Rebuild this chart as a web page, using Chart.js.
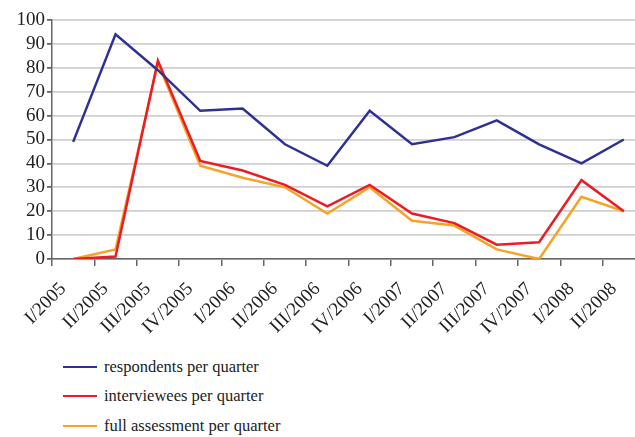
<!DOCTYPE html>
<html>
<head>
<meta charset="utf-8">
<script src="https://cdn.jsdelivr.net/npm/chart.js@4"></script>
<style>
  body { margin: 0; overflow: hidden; background: #fff; }
  #wrap { position: relative; width: 660px; height: 340px; }
  #legend { margin: 0; padding: 12px 0 0 63px; list-style: none;
    font-family: "Liberation Serif", "Times New Roman", serif; font-size: 16.5px; color: #222; }
  #legend li { height: 29.5px; display: flex; align-items: center; }
  #legend span.sw { display: inline-block; width: 34px; height: 0; border-top: 2px solid; margin-right: 7px; }
</style>
</head>
<body>
<div id="wrap"><canvas id="myChart" width="660" height="340"></canvas></div>
<ul id="legend"></ul>
<script>
// quarters on the x axis
const quarters = ["I/2005", "II/2005", "III/2005", "IV/2005", "I/2006", "II/2006", "III/2006",
  "IV/2006", "I/2007", "II/2007", "III/2007", "IV/2007", "I/2008", "II/2008"];
const respondents = [49, 94, 79, 62, 63, 48, 39, 62, 48, 51, 58, 48, 40, 50];
const interviewees = [0, 1, 83, 41, 37, 31, 22, 31, 19, 15, 6, 7, 33, 20];
const fullAssessment = [0, 4, 82, 39, 34, 30, 19, 30, 16, 14, 4, 0, 26, 20];
const yTicks = [0, 10, 20, 30, 40, 50, 60, 70, 80, 90, 100];

const serif = "'Liberation Serif', 'Times New Roman', serif";

var ctx = document.getElementById('myChart').getContext('2d');
var myChart = new Chart(ctx, {
  type: 'line',
  data: {
    labels: quarters,
    datasets: [{
      label: "respondents per quarter",
      data: respondents,
      borderColor: "#2e3192",
      borderWidth: 2.5
    }, {
      label: "interviewees per quarter",
      data: interviewees,
      borderColor: "#ed1c24",
      borderWidth: 2.5
    }, {
      label: "full assessment per quarter",
      data: fullAssessment,
      borderColor: "#f7a325",
      borderWidth: 2.5
    }]
  },
  options: {
    responsive: false,
    animation: false,
    maintainAspectRatio: false,
    elements: { point: { radius: 0 }, line: { tension: 0 } },
    layout: { padding: { top: 20, right: 15, left: 0, bottom: 0 } },
    plugins: { legend: { display: false }, tooltip: { enabled: false } },
    scales: {
      x: {
        offset: true,
        grid: { offset: true, drawOnChartArea: false, drawTicks: true, tickLength: 7, color: "#666", lineWidth: 1.5 },
        border: { color: "#666", width: 1.5 },
        ticks: {
          minRotation: 45, maxRotation: 45, autoSkip: false, labelOffset: -10,
          color: "#222", font: { family: serif, size: 19 }, padding: 12
        },
        afterFit: function (scale) { scale.height = 81; }
      },
      y: {
        min: 0, max: 100,
        afterBuildTicks: function (scale) { scale.ticks = yTicks.map(v => ({ value: v })); },
        grid: { color: "#cfcfcf", lineWidth: 1.8, drawTicks: true, tickLength: 5,
          tickColor: "#666" },
        border: { color: "#666", width: 1.5 },
        ticks: { autoSkip: false, color: "#222", font: { family: serif, size: 19 }, padding: 2 },
        afterFit: function (scale) { scale.width = 52; }
      }
    }
  }
});

// html legend, one entry per line
var ul = document.getElementById('legend');
myChart.data.datasets.forEach(function (ds) {
  var li = document.createElement('li');
  var sw = document.createElement('span');
  sw.className = 'sw';
  sw.style.borderColor = ds.borderColor;
  li.appendChild(sw);
  li.appendChild(document.createTextNode(ds.label));
  ul.appendChild(li);
});
</script>
</body>
</html>
